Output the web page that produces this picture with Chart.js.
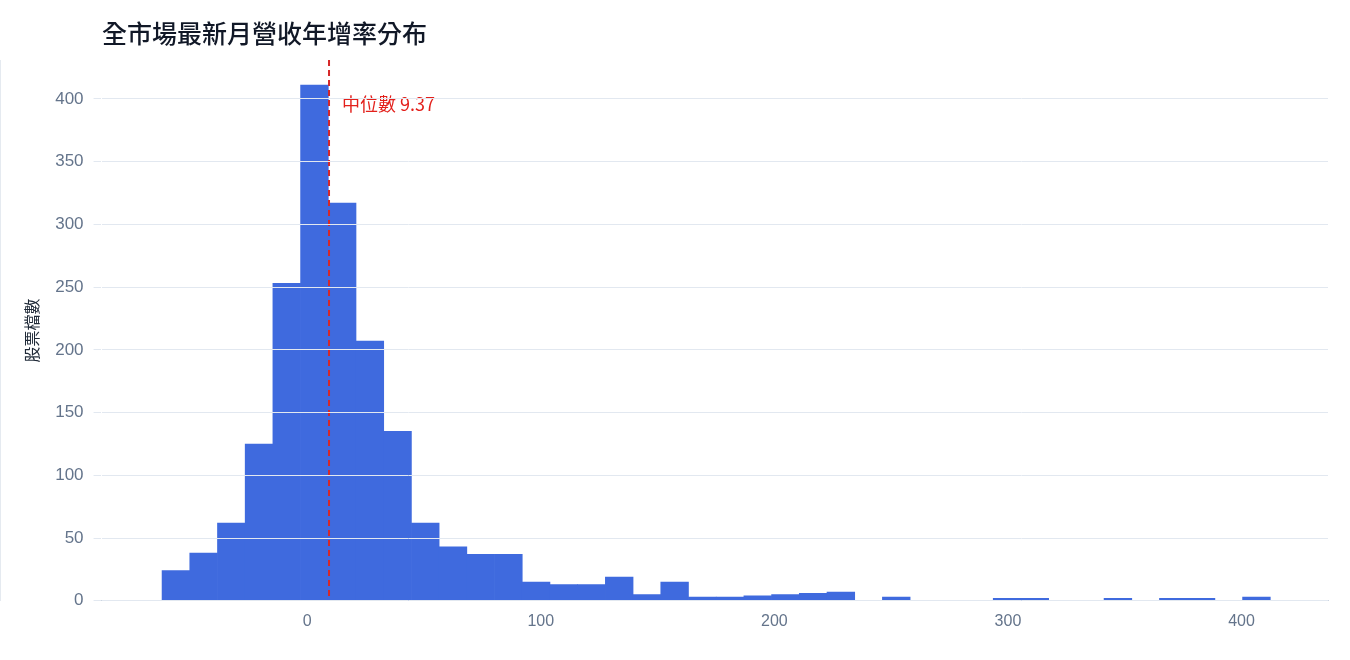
<!DOCTYPE html>
<html><head><meta charset="utf-8">
<script src="https://cdn.jsdelivr.net/npm/chart.js@4"></script>
<style>body{margin:0;background:#fff}#w{width:1350px;height:660px}</style>
</head><body><div id="w"><canvas id="c"></canvas></div>
<script>
const binStart = -62.1;
const binWidth = 11.86;
const counts = [24,38,62,125,253,411,317,207,135,62,43,37,37,15,13,13,19,5,15,3,3,4,5,6,7,0,3,0,0,0,2,2,0,0,2,0,2,2,0,3];
const median = 9.37;
const xTicks = [0,100,200,300,400];
const yTicks = [0,50,100,150,200,250,300,350,400];
const F = "'Noto Sans CJK TC','Liberation Sans',sans-serif";
const FL = "'Liberation Sans','Noto Sans CJK TC',sans-serif";
const data = counts.map((v,i)=>({x: binStart + binWidth*(i+0.5), y: v}));
const medianPlugin = {id:'med', afterDatasetsDraw(ch){
  const {ctx, chartArea:a, scales:{x}} = ch; const px = x.getPixelForValue(median);
  ctx.save(); ctx.strokeStyle='#d62728'; ctx.lineWidth=2; ctx.setLineDash([6,4]);
  ctx.beginPath(); ctx.moveTo(px,a.top); ctx.lineTo(px,a.bottom); ctx.stroke();
  ctx.setLineDash([]); ctx.fillStyle='#e3201b'; ctx.font='18px '+F; ctx.textBaseline='middle';
  ctx.fillText('中位數 9.37', px+13, 104);
  ctx.fillStyle='#111827'; ctx.font='500 25px '+F; ctx.textBaseline='middle';
  ctx.fillText('全市場最新月營收年增率分布', 102, 33);
  ctx.restore();
}};
new Chart(document.getElementById('c'), {
  type:'bar',
  data:{datasets:[{data, backgroundColor:'#3f6ade', barPercentage:1, categoryPercentage:1, borderWidth:0}]},
  options:{responsive:true, maintainAspectRatio:false, animation:false,
    layout:{padding:{left:18,right:22,top:60,bottom:26}},
    plugins:{legend:{display:false}, tooltip:{enabled:false}, title:{display:false}},
    scales:{
      x:{type:'linear', min:-88, max:437, offset:false,
        afterBuildTicks(s){s.ticks = xTicks.map(v=>({value:v}));},
        grid:{display:false}, border:{color:'#cbd5e1'},
        ticks:{color:'#64748b', font:{family:FL, size:16}}},
      y:{min:0, max:431,
        afterBuildTicks(s){s.ticks = yTicks.map(v=>({value:v}));},
        grid:{color:'#e2e8f0', z:1}, border:{display:true, color:'#cbd5e1'},
        title:{display:true, text:'股票檔數', color:'#1f2937', font:{family:F, size:16}},
        ticks:{color:'#64748b', font:{family:FL, size:17}, padding:10}}
    }},
  plugins:[medianPlugin]
});
</script></body></html>
